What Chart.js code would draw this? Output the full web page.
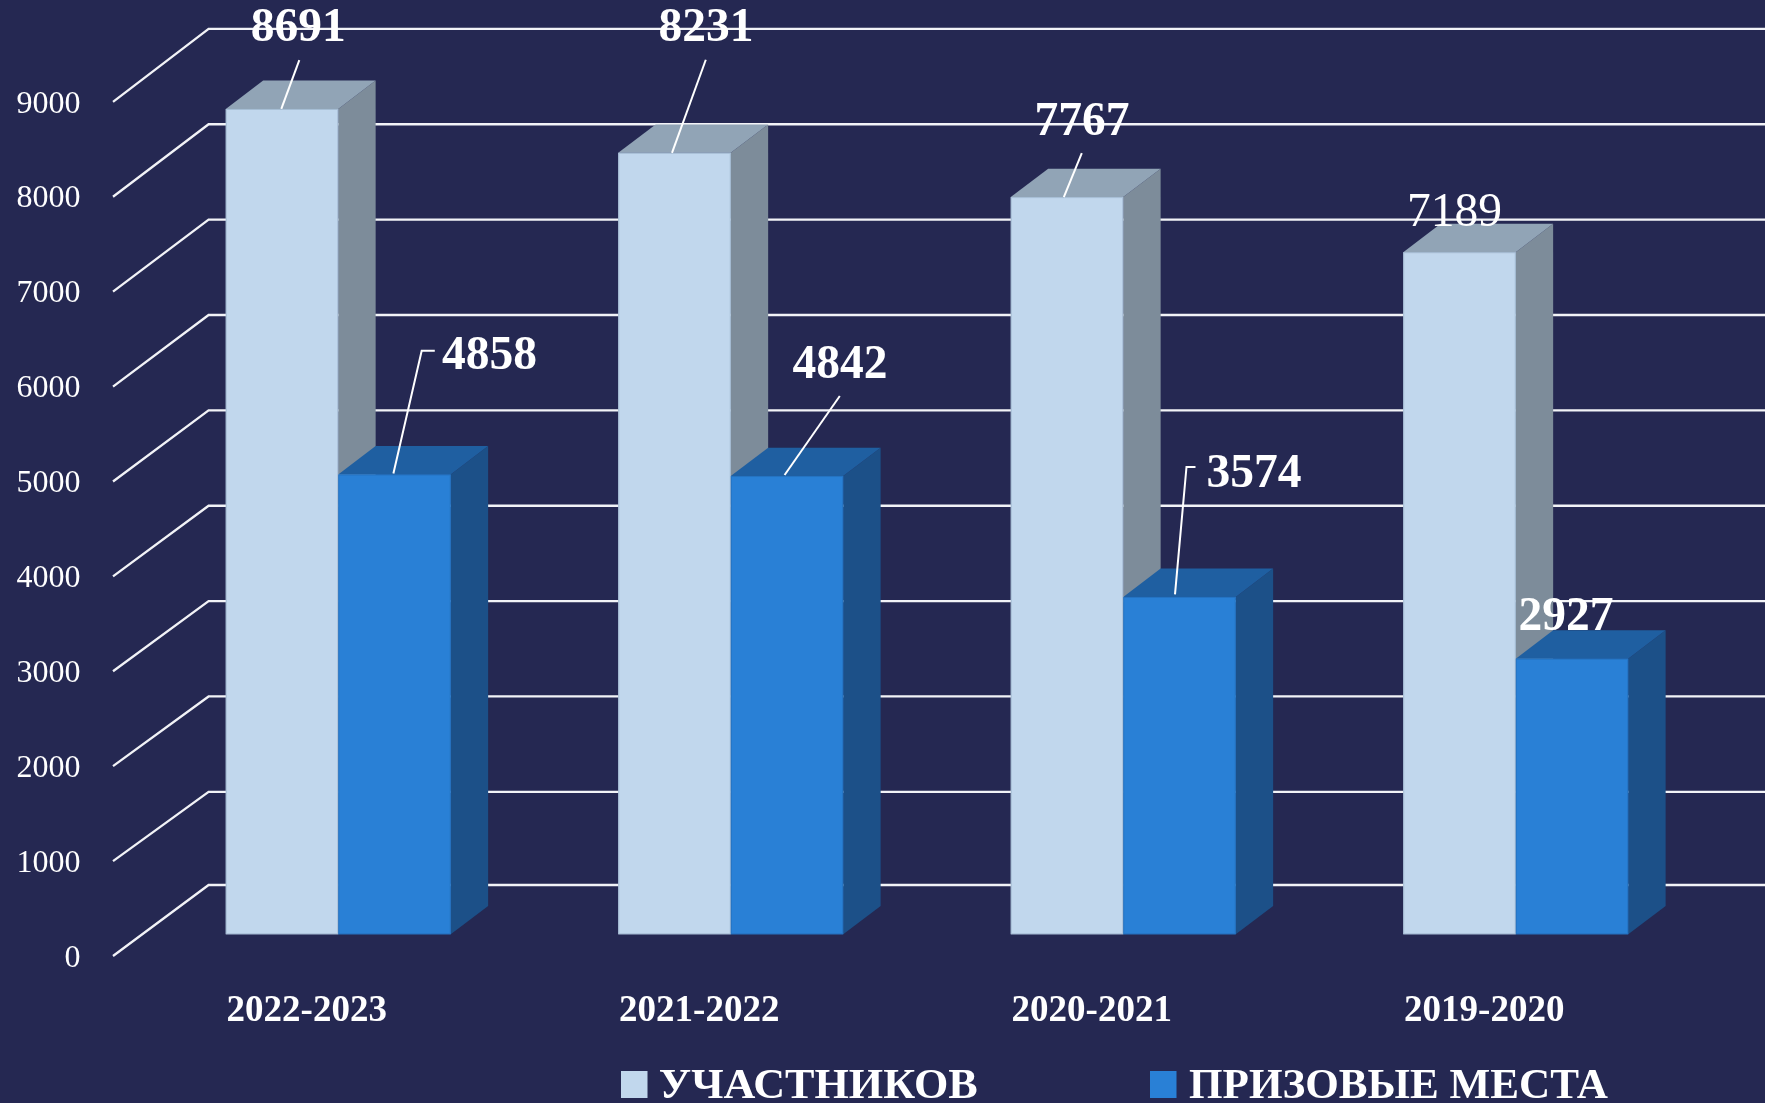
<!DOCTYPE html>
<html><head><meta charset="utf-8">
<style>html,body{margin:0;padding:0;background:#252852;overflow:hidden}canvas{display:block}</style>
<script src="https://cdn.jsdelivr.net/npm/chart.js@4/dist/chart.umd.min.js"></script>
</head><body><canvas id="c" width="1765" height="1103"></canvas>
<script>
const categories = ['2022-2023','2021-2022','2020-2021','2019-2020'];
const participants = [8691,8231,7767,7189];
const prizePlaces = [4858,4842,3574,2927];
const seriesNames = ['УЧАСТНИКОВ','ПРИЗОВЫЕ МЕСТА'];
const yTicks = [0,1000,2000,3000,4000,5000,6000,7000,8000,9000];

const SERIF = '"Liberation Serif", serif';
const GRID = '#f2f3f7';
const faces = [
  {front:'#c1d7ed', side:'#7d8c9a', top:'#91a4b6', edge:'#a6bdd4'},
  {front:'#2980d6', side:'#1c5088', top:'#1f5fa1', edge:'#2573c2'}
];
const DEPTH = {x:37.4, y:-28.4};
const WALL = {backX:208.6, backDy:-50.6, backDyZero:-52.8, frontX:113, frontDy:-0.7};
const BAR_FLOOR = 36.7; // the 3-D floor sits slightly above the value-axis zero

// value-label placement relative to each bar's top centre
const labelShift = [
  [[16.3,-79.9],[31.5,-123.8],[15,-74.8],[-5,-38.5]],
  [[95,-117.5],[53,-110.3],[74.5,-122.1],[-6,-40.9]]
];
const labelBold = [[true,true,true,false],[true,true,true,true]];
const leaders = [
  [[[17.3,-48.9],[-0.7,0]], [[31.3,-93.1],[-2.5,0]], [[14.8,-44],[-3.2,0]], null],
  [[[40.3,-123.8],[27.2,-123.8],[-1.1,-1]], [[52.8,-80],[-2.4,-1]], [[16,-130],[7,-130],[-4.5,-2.6]], null]
];
const legendLayout = [
  {box:621, text:658.8, width:319},
  {box:1150, text:1189, width:419}
];

const scene = {
  id:'scene',
  beforeDatasetsDraw(chart){
    const {ctx, scales:{y, yBar}} = chart;
    ctx.save();
    ctx.strokeStyle = GRID; ctx.lineWidth = 2.3; ctx.lineJoin = 'miter';
    yTicks.forEach(v=>{
      const back = yBar.getPixelForValue(v) + (v===0?WALL.backDyZero:WALL.backDy);
      ctx.beginPath();
      ctx.moveTo(WALL.frontX, y.getPixelForValue(v)+WALL.frontDy);
      ctx.lineTo(WALL.backX, back);
      ctx.lineTo(chart.width, back);
      ctx.stroke();
    });
    chart.data.datasets.forEach((ds,d)=>{
      chart.getDatasetMeta(d).data.forEach(bar=>{
        const w = bar.width/2, l = bar.x-w, r = bar.x+w, t = bar.y, b = bar.base;
        ctx.fillStyle = faces[d].side;
        ctx.beginPath();
        ctx.moveTo(r,t); ctx.lineTo(r+DEPTH.x,t+DEPTH.y);
        ctx.lineTo(r+DEPTH.x,b+DEPTH.y); ctx.lineTo(r,b);
        ctx.closePath(); ctx.fill();
        ctx.fillStyle = faces[d].top;
        ctx.beginPath();
        ctx.moveTo(l,t); ctx.lineTo(l+DEPTH.x,t+DEPTH.y);
        ctx.lineTo(r+DEPTH.x,t+DEPTH.y); ctx.lineTo(r,t);
        ctx.closePath(); ctx.fill();
      });
    });
    ctx.restore();
  },
  afterDatasetsDraw(chart){
    const {ctx} = chart;
    ctx.save();
    chart.data.datasets.forEach((ds,d)=>{
      chart.getDatasetMeta(d).data.forEach((bar,i)=>{
        ctx.strokeStyle = faces[d].edge; ctx.lineWidth = 1;
        ctx.strokeRect(bar.x-bar.width/2+0.5, bar.y+0.5, bar.width-1, bar.base-bar.y-1);
      });
    });
    chart.data.datasets.forEach((ds,d)=>{
      chart.getDatasetMeta(d).data.forEach((bar,i)=>{
        const pts = leaders[d][i];
        if(pts){
          ctx.strokeStyle = '#ffffff'; ctx.lineWidth = 2;
          ctx.beginPath();
          pts.forEach((q,k)=>{ const X=bar.x+q[0], Y=bar.y+q[1]; k?ctx.lineTo(X,Y):ctx.moveTo(X,Y); });
          ctx.stroke();
        }
        ctx.fillStyle = '#ffffff';
        ctx.textAlign = 'center'; ctx.textBaseline = 'middle';
        ctx.font = (labelBold[d][i]?'bold ':'')+'47.5px '+SERIF;
        ctx.fillText(String(ds.data[i]), bar.x+labelShift[d][i][0], bar.y+labelShift[d][i][1]);
      });
    });
    // legend
    ctx.textAlign='left'; ctx.textBaseline='alphabetic';
    seriesNames.forEach((name,d)=>{
      const L = legendLayout[d];
      ctx.fillStyle = faces[d].front;
      ctx.fillRect(L.box,1071,26.5,27);
      ctx.fillStyle = '#ffffff';
      ctx.font = 'bold 42px '+SERIF;
      const k = L.width/ctx.measureText(name).width;
      ctx.save();
      ctx.translate(L.text,1098); ctx.scale(k,1);
      ctx.fillText(name,0,0);
      ctx.restore();
    });
    ctx.restore();
  }
};

new Chart(document.getElementById('c'),{
  type:'bar',
  data:{labels:categories,datasets:[
    {label:seriesNames[0],data:participants,backgroundColor:faces[0].front,borderWidth:0,base:BAR_FLOOR,yAxisID:'yBar'},
    {label:seriesNames[1],data:prizePlaces,backgroundColor:faces[1].front,borderWidth:0,base:BAR_FLOOR,yAxisID:'yBar'}
  ]},
  options:{
    responsive:false,animation:false,
    layout:{padding:{top:79.5,right:53,left:0,bottom:0}},
    datasets:{bar:{categoryPercentage:0.5732,barPercentage:1}},
    plugins:{legend:{display:false},tooltip:{enabled:false},title:{display:false}},
    scales:{
      x:{
        grid:{display:false},border:{display:false},
        afterFit(s){s.height=165.2;},
        ticks:{color:'#ffffff',font:{family:SERIF,size:37,weight:'bold'},padding:43.2,labelOffset:-31.5,maxRotation:0,autoSkip:false}
      },
      // bars live on the plot plane
      yBar:{min:0,max:9000,display:false,position:'left',grid:{display:false}},
      // tick labels sit on the front edge of the 3-D floor, a slightly different projection
      y:{
        min:199,max:9243,position:'left',
        grid:{display:false,drawTicks:false},border:{display:false},
        afterFit(s){s.width=142;s.paddingTop=0;s.paddingBottom=0;},
        afterBuildTicks(s){s.ticks=yTicks.map(value=>({value}));},
        ticks:{color:'#ffffff',font:{family:SERIF,size:32},padding:61.4,labelOffset:1.6,autoSkip:false,callback:v=>String(v)}
      }
    }
  },
  plugins:[scene]
});
</script></body></html>
